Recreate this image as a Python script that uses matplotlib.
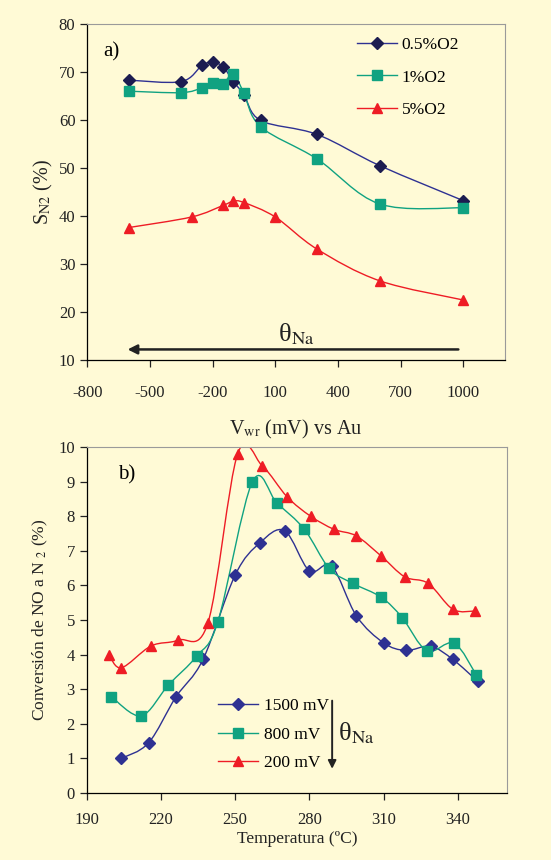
"""Two-panel N2 selectivity / NO conversion chart (Excel-style smoothed lines)."""

import matplotlib
matplotlib.use("Agg")
import matplotlib.pyplot as plt
from matplotlib.path import Path
from matplotlib.patches import PathPatch
from matplotlib.lines import Line2D

# ---- panel a) : selectivity vs potential ----
vwr_a = [-600, -350, -250, -200, -150, -100, -50, 30, 300, 600, 1000]
sn2_05 = [68.3, 68.0, 71.4, 72.0, 71.1, 68.0, 65.3, 59.9, 57.0, 50.5, 43.2]
sn2_1 = [66.0, 65.7, 66.7, 67.8, 67.6, 69.6, 65.6, 58.6, 51.9, 42.5, 41.7]
vwr_5 = [-600, -300, -150, -100, -50, 100, 300, 600, 1000]
sn2_5 = [37.6, 39.8, 42.2, 43.1, 42.8, 39.8, 33.1, 26.5, 22.5]
labels_a = ["0.5%O2", "1%O2", "5%O2"]

# ---- panel b) : NO conversion vs temperature ----
t_1500 = [204, 215, 226, 237, 250, 260, 270, 280, 289, 299, 310, 319, 329, 338, 348]
c_1500 = [1.0, 1.45, 2.77, 3.86, 6.3, 7.23, 7.58, 6.42, 6.56, 5.12, 4.34, 4.12, 4.24, 3.86, 3.23]
t_800 = [200, 212, 223, 234.5, 243, 257, 267, 278, 288, 297.5, 309, 317.5, 327.5, 338.5, 347.5]
c_800 = [2.78, 2.23, 3.12, 3.96, 4.95, 9.0, 8.37, 7.62, 6.49, 6.06, 5.66, 5.07, 4.11, 4.33, 3.41]
t_200 = [199, 204, 216, 227, 239, 251, 261, 271, 280.5, 290, 299, 309, 318.5, 328, 338, 347]
c_200 = [4.0, 3.62, 4.25, 4.42, 4.92, 9.8, 9.45, 8.56, 8.0, 7.62, 7.43, 6.85, 6.25, 6.06, 5.31, 5.26]
labels_b = ["1500 mV", "800 mV", "200 mV"]

BG = "#fffad6"
NAVY = "#2e3192"
NAVY_DK = "#1c1c50"
GREEN = "#10a281"
RED = "#ee1c25"

plt.rcParams["font.family"] = ["Liberation Serif", "DejaVu Serif"]
plt.rcParams["mathtext.fontset"] = "stix"
plt.rcParams["axes.unicode_minus"] = False


def smooth_line(ax, xs, ys, color, lw=1.0):
    # Excel-like smoothing: cubic bezier through the points
    n = len(xs)
    verts = [(xs[0], ys[0])]
    codes = [Path.MOVETO]
    for i in range(n - 1):
        x0, y0 = (xs[i - 1], ys[i - 1]) if i > 0 else (xs[i], ys[i])
        x3, y3 = (xs[i + 2], ys[i + 2]) if i + 2 < n else (xs[i + 1], ys[i + 1])
        c1 = (xs[i] + (xs[i + 1] - x0) / 6, ys[i] + (ys[i + 1] - y0) / 6)
        c2 = (xs[i + 1] - (x3 - xs[i]) / 6, ys[i + 1] - (y3 - ys[i]) / 6)
        verts += [c1, c2, (xs[i + 1], ys[i + 1])]
        codes += [Path.CURVE4] * 3
    ax.add_patch(PathPatch(Path(verts, codes), facecolor="none",
                           edgecolor=color, lw=lw, zorder=2))


def style_axes(ax):
    ax.set_facecolor(BG)
    for side in ("top", "right"):
        ax.spines[side].set_color("#9a9a9a")
    for side in ("left", "bottom"):
        ax.spines[side].set_color("black")
        ax.spines[side].set_linewidth(0.9)
    ax.tick_params(direction="out", length=5, width=0.9, labelsize=12,
                   top=False, right=False, colors="#222222")


fig = plt.figure(figsize=(5.51, 8.60), dpi=100, facecolor=BG)
ax_a = fig.add_axes([0.1583, 0.5814, 0.7582, 0.3907])
ax_b = fig.add_axes([0.1574, 0.0779, 0.7633, 0.4023])

# ---- panel a ----
style_axes(ax_a)
ax_a.tick_params(axis="x", pad=13)
series_a = [
    (vwr_a, sn2_05, NAVY, NAVY_DK, "D", 6.5),
    (vwr_a, sn2_1, GREEN, GREEN, "s", 6.5),
    (vwr_5, sn2_5, RED, RED, "^", 7.5),
]
handles = []
for (xs, ys, lc, mc, mk, ms), lab in zip(series_a, labels_a):
    smooth_line(ax_a, xs, ys, lc)
    ax_a.plot(xs, ys, ls="none", marker=mk, ms=ms, color=mc, zorder=3)
    handles.append(Line2D([], [], color=lc, lw=1.0, marker=mk, ms=ms,
                          markerfacecolor=mc, markeredgecolor=mc, label=lab))
ax_a.set_xlim(-800, 1200)
ax_a.set_ylim(10, 80)
ax_a.set_xticks(range(-800, 1001, 300))
ax_a.set_yticks(range(10, 81, 10))
ax_a.set_xlabel(r"V$_{\mathrm{wr}}$ (mV) vs Au", fontsize=14.5, labelpad=12,
                color="#222222")
ax_a.set_ylabel(r"S$_{\mathrm{N2}}$ (%)", fontsize=14.5, labelpad=3, color="#222222")
ax_a.legend(handles=handles, loc="upper left", bbox_to_anchor=(0.645, 0.962),
            frameon=False, fontsize=12.5, handlelength=2.3, handletextpad=0.3,
            labelspacing=0.95, borderpad=0, borderaxespad=0)
ax_a.text(-683, 74.2, "a)", fontsize=15, ha="center", va="center")
ax_a.annotate("", xy=(-620, 12.2), xytext=(990, 12.2),
              arrowprops=dict(arrowstyle="-|>", color="#222222", lw=1.8,
                              mutation_scale=14))
ax_a.text(200, 15.3, r"θ$_{\mathrm{Na}}$", fontsize=19, ha="center", va="center",
          color="#222222")

# ---- panel b ----
style_axes(ax_b)
ax_b.tick_params(axis="x", pad=9)
series_b = [
    (t_1500, c_1500, NAVY, NAVY, "D", 6.5),
    (t_800, c_800, GREEN, GREEN, "s", 6.5),
    (t_200, c_200, RED, RED, "^", 7.5),
]
handles = []
for (xs, ys, lc, mc, mk, ms), lab in zip(series_b, labels_b):
    smooth_line(ax_b, xs, ys, lc)
    ax_b.plot(xs, ys, ls="none", marker=mk, ms=ms, color=mc, zorder=3)
    handles.append(Line2D([], [], color=lc, lw=1.0, marker=mk, ms=ms,
                          markerfacecolor=mc, markeredgecolor=mc, label=lab))
ax_b.set_xlim(190, 360)
ax_b.set_ylim(0, 10)
ax_b.set_xticks(range(190, 341, 30))
ax_b.set_yticks(range(0, 11))
ax_b.set_xlabel("Temperatura (ºC)", fontsize=12.5, labelpad=2, color="#222222")
ax_b.set_ylabel(r"Conversión de NO a N $_{2}$ (%)", fontsize=12.5, labelpad=6,
                color="#222222")
ax_b.legend(handles=handles, loc="upper left", bbox_to_anchor=(0.313, 0.274),
            frameon=False, fontsize=12.5, handlelength=2.3, handletextpad=0.3,
            labelspacing=0.7, borderpad=0, borderaxespad=0)
ax_b.text(206, 9.2, "b)", fontsize=15, ha="center", va="center")
ax_b.annotate("", xy=(289.2, 0.62), xytext=(289.2, 2.75),
              arrowprops=dict(arrowstyle="-|>", color="#222222", lw=1.4,
                              mutation_scale=12))
ax_b.text(299, 1.73, r"θ$_{\mathrm{Na}}$", fontsize=19, ha="center", va="center",
          color="#222222")

fig.savefig("out.png", dpi=100, facecolor=BG)
